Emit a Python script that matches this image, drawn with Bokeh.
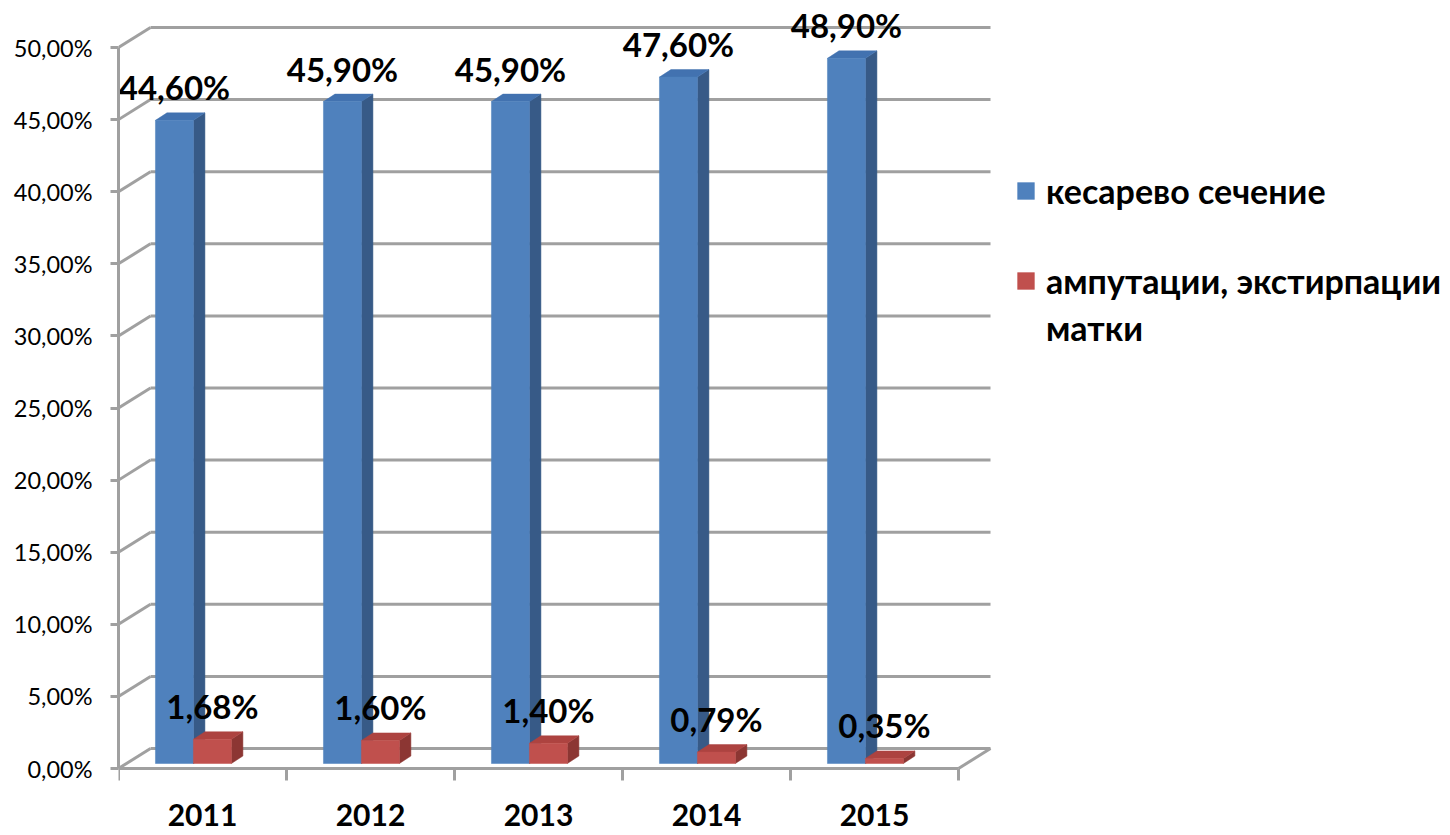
from bokeh.plotting import figure
from bokeh.models import FixedTicker, Legend, LegendItem, Range1d
from bokeh.core.properties import value
from bokeh.embed import file_html
from bokeh.resources import INLINE

# ---------------- data ----------------
years = ["2011", "2012", "2013", "2014", "2015"]
cesarean = [44.60, 45.90, 45.90, 47.60, 48.90]
hysterectomy = [1.68, 1.60, 1.40, 0.79, 0.35]
series_names = ["кесарево сечение", "ампутации, экстирпации\nматки"]
y_ticks = [0, 5, 10, 15, 20, 25, 30, 35, 40, 45, 50]
y_tick_labels = ["0,00%", "5,00%", "10,00%", "15,00%", "20,00%", "25,00%",
                 "30,00%", "35,00%", "40,00%", "45,00%", "50,00%"]

# ---------------- style / layout constants ----------------
FONT = "Lato"
PX_CAT = 168.0          # pixels per category
PX_PCT = 14.42          # pixels per percent
DX = 32 / PX_CAT        # wall depth (x)
DY = 20 / PX_PCT        # wall depth (y)
BASE = 0.25 * DY        # bars sit a quarter into the depth
BAR_L = 0.22            # blue bar left inside category
BAR_W = 0.226           # bar width
BDX = 11.5 / PX_CAT     # bar depth (x)
BDY = 7.5 / PX_PCT      # bar depth (y)
GRID = "#a0a0a0"

FRAME_TOP_PX = 10
FRAME_BOT_PX = 835
ZERO_PX = 768
LEFT_PX = 118
RIGHT_PX = 1448

frame_h = FRAME_BOT_PX - FRAME_TOP_PX
frame_w = RIGHT_PX - LEFT_PX
y0 = -(FRAME_BOT_PX - ZERO_PX) / PX_PCT
y1 = (ZERO_PX - FRAME_TOP_PX) / PX_PCT
x1 = frame_w / PX_CAT

p = figure(frame_width=frame_w, frame_height=frame_h,
           x_range=Range1d(0, x1), y_range=Range1d(y0, y1),
           output_backend="svg", toolbar_location=None,
           min_border_left=LEFT_PX, min_border_top=FRAME_TOP_PX,
           min_border_bottom=0, min_border_right=0,
           x_axis_location=None)
p.outline_line_color = None
p.grid.visible = False
p.background_fill_color = "white"

# y axis (front)
ya = p.yaxis[0]
ya.ticker = FixedTicker(ticks=y_ticks)
ya.major_label_overrides = {t: l for t, l in zip(y_ticks, y_tick_labels)}
ya.bounds = (0, 50)
ya.axis_line_color = GRID
ya.axis_line_width = 3
ya.major_tick_line_color = GRID
ya.major_tick_line_width = 3
ya.major_tick_out = 8
ya.major_tick_in = 0
ya.minor_tick_line_color = None
ya.major_label_standoff = 18
ya.major_label_text_font = FONT
ya.major_label_text_font_size = "23.5px"
ya.major_label_text_color = "black"

n = len(years)

# back wall gridlines
p.segment(x0=[DX] * len(y_ticks), y0=[t + DY for t in y_ticks],
          x1=[n + DX] * len(y_ticks), y1=[t + DY for t in y_ticks],
          line_color=GRID, line_width=3)
# side wall diagonals
p.segment(x0=[0] * len(y_ticks), y0=y_ticks,
          x1=[DX] * len(y_ticks), y1=[t + DY for t in y_ticks],
          line_color=GRID, line_width=3)
# floor front edge (x axis) and right diagonal
p.segment(x0=[0, n], y0=[0, 0], x1=[n, n + DX], y1=[0, DY],
          line_color=GRID, line_width=3)
# x ticks
tick_len = 12 / PX_PCT
p.segment(x0=list(range(n + 1)), y0=[0] * (n + 1),
          x1=list(range(n + 1)), y1=[-tick_len] * (n + 1),
          line_color=GRID, line_width=3)
# x labels
p.text(x=[i + 0.5 for i in range(n)], y=[-46 / PX_PCT] * n, text=years,
       text_font=value(FONT), text_font_style="bold", text_font_size="30px",
       text_align="center", text_baseline="middle", text_color="black")


def faces(values, left):
    fx, fy, sx, sy, tx, ty = [], [], [], [], [], []
    for i, v in enumerate(values):
        a = i + left
        b = a + BAR_W
        lo = BASE
        hi = BASE + v
        fx.append([a, b, b, a]); fy.append([lo, lo, hi, hi])
        sx.append([b, b + BDX, b + BDX, b]); sy.append([lo, lo + BDY, hi + BDY, hi])
        tx.append([a, b, b + BDX, a + BDX]); ty.append([hi, hi, hi + BDY, hi + BDY])
    return fx, fy, sx, sy, tx, ty


def draw(values, left, c_front, c_top, c_side):
    fx, fy, sx, sy, tx, ty = faces(values, left)
    p.patches(sx, sy, fill_color=c_side, line_color=c_side, line_width=0.5)
    p.patches(tx, ty, fill_color=c_top, line_color=c_top, line_width=0.5)
    return p.patches(fx, fy, fill_color=c_front, line_color=c_front, line_width=0.5)


blue = draw(cesarean, BAR_L, "#4f81bd", "#4272b0", "#375a87")
red = draw(hysterectomy, BAR_L + BAR_W, "#c0504d", "#ad4340", "#8c3633")


def fmt(v):
    return f"{v:.2f}".replace(".", ",") + "%"


for vals, left in ((cesarean, BAR_L), (hysterectomy, BAR_L + BAR_W)):
    p.text(x=[i + left + BAR_W / 2 for i in range(n)],
           y=[BASE + v for v in vals], text=[fmt(v) for v in vals],
           y_offset=-33, text_font=value(FONT), text_font_style="bold",
           text_font_size="33px", text_align="center", text_baseline="middle",
           text_color="black")

# legend (second series name wraps onto a continuation line)
name2_lines = series_names[1].split("\n")
blank = p.patches([[]], [[]], fill_color=None, line_color=None)
legend_style = dict(padding=0, margin=0, glyph_width=21, glyph_height=21,
                    label_standoff=10, border_line_color=None,
                    background_fill_alpha=0, label_text_font=FONT,
                    label_text_font_style="bold", label_text_font_size="34px",
                    label_text_color="black")
legend = Legend(items=[LegendItem(label=series_names[0], renderers=[blue]),
                       LegendItem(label=name2_lines[0], renderers=[red])],
                location=(1015 - LEFT_PX, 534), spacing=49, **legend_style)
legend_cont = Legend(items=[LegendItem(label=name2_lines[1], renderers=[blank])],
                     location=(1015 - LEFT_PX, 487), spacing=0, **legend_style)
p.add_layout(legend)
p.add_layout(legend_cont)

open("out.html", "w").write(file_html(p, INLINE))
